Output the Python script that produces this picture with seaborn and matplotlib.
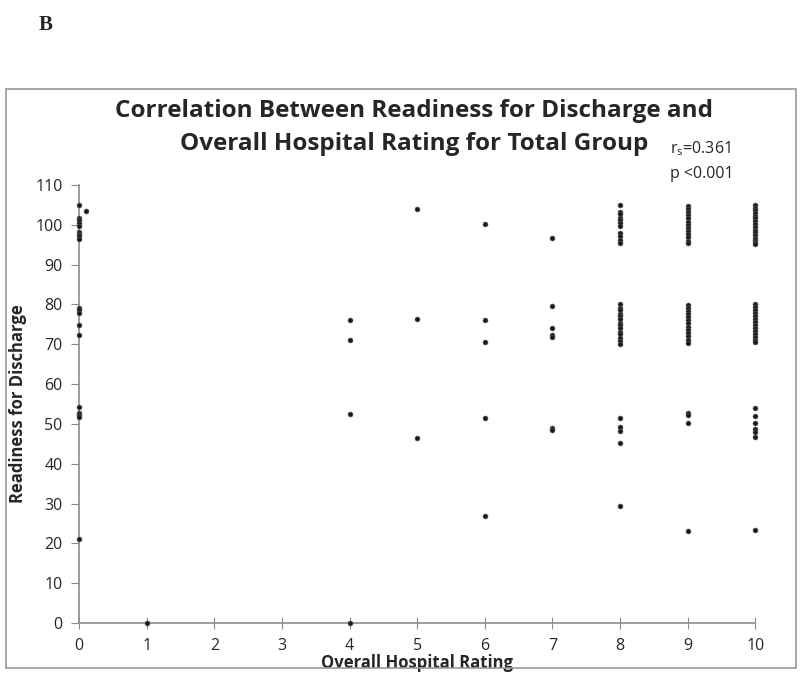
"""
Readiness for discharge vs overall hospital rating (panel B).
Scatter of each patient's readiness score against the rating they gave.
"""

import pandas as pd
import matplotlib.pyplot as plt
import seaborn as sns
from matplotlib.patches import Rectangle

sns.set_style("white")
plt.rcParams["font.family"] = ["Open Sans", "DejaVu Sans"]

# ---------------------------------------------------------
# Data: one list of readiness scores per rating
# ---------------------------------------------------------
ratings = [0, 0.1, 1, 4, 5, 6, 7, 8, 9, 10]
readiness = [
    [105, 101.7, 101.1, 100.4, 99.6, 98.3, 97.7, 97.1, 96.5,
     79.1, 78.5, 77.8, 74.8, 72.4, 54.3, 52.7, 52.3, 51.8, 21.2],
    [103.4],
    [0],
    [76.1, 71.1, 52.6, 0],
    [104, 76.4, 46.5],
    [100.1, 76, 70.5, 51.6, 26.8],
    [96.8, 79.6, 74, 72.4, 71.8, 48.9, 48.4],
    [104.9, 103.3, 102.6, 101.8, 101.1, 100.4, 99.6, 97.9, 97.1, 96.2, 95.4,
     80, 79.2, 78.6, 77.7, 77, 76.3, 75.4, 74.8, 74, 73.1, 72.5, 71.6, 70.8, 70,
     51.6, 49.1, 48.1, 45.2, 29.5],
    [104.8, 104, 103.1, 102.4, 101.7, 100.8, 100, 99.3, 98.4, 97.6, 96.9, 96, 95.4,
     79.9, 79.2, 78.3, 77.6, 76.9, 76, 75.3, 74.4, 73.6, 72.9, 72, 71.1, 70.4,
     52.8, 52.3, 50.2, 23.2],
    [105, 104.3, 103.6, 103, 102.3, 101.6, 100.9, 100.2, 99.5, 98.8, 98.1, 97.4,
     96.7, 96.1, 95.6, 95.2,
     80, 79.3, 78.6, 77.8, 77.1, 76.3, 75.6, 74.8, 74.1, 73.3, 72.6, 71.8, 71, 70.5,
     53.9, 52.1, 50.3, 48.6, 48, 46.6, 23.3],
]

title_lines = ["Correlation Between Readiness for Discharge and",
               "Overall Hospital Rating for Total Group"]

df = pd.DataFrame(
    [(r, v) for r, vals in zip(ratings, readiness) for v in vals],
    columns=["Rating", "Readiness"],
)

# ---------------------------------------------------------
# Plot
# ---------------------------------------------------------
fig = plt.figure(figsize=(8, 6.75), dpi=100)
ax = fig.add_axes([0.099, 0.077, 0.845, 0.649])

sns.scatterplot(data=df, x="Rating", y="Readiness", ax=ax, s=13,
                color="#1a1a1a", edgecolor="#666666", linewidth=0.4,
                clip_on=False, zorder=3)

ax.set_xlim(0, 10)
ax.set_ylim(0, 110)
ax.set_xticks(range(0, 11))
ax.set_yticks(range(0, 111, 10))

for side in ["top", "right"]:
    ax.spines[side].set_visible(False)
for side in ["left", "bottom"]:
    ax.spines[side].set_color("#8c8c8c")
    ax.spines[side].set_linewidth(1.2)

ax.tick_params(axis="y", direction="out", length=6, color="#8c8c8c",
               labelsize=11.5, pad=6, left=True)
ax.tick_params(axis="x", direction="inout", length=8, color="#8c8c8c",
               labelsize=11.5, pad=7, bottom=True)

ax.set_xlabel("Overall Hospital Rating", fontsize=12, fontweight="bold", labelpad=0)
ax.set_ylabel("Readiness for Discharge", fontsize=12, fontweight="bold", labelpad=6)

# title as two separate lines so the stats note can sit beside line two
fig.text(0.518, 0.835, title_lines[0], ha="center", va="center",
         fontsize=17.5, fontweight="bold")
fig.text(0.518, 0.786, title_lines[1], ha="center", va="center",
         fontsize=17.5, fontweight="bold")

fig.text(0.838, 0.780, r"r$_\mathregular{s}$=0.361", fontsize=11.5, va="center")
fig.text(0.838, 0.742, "p <0.001", fontsize=11.5, va="center")

fig.text(0.048, 0.963, "B", fontsize=15, fontweight="bold",
         family="Liberation Serif", va="center")

fig.patches.append(Rectangle((0.007, 0.01), 0.988, 0.858, transform=fig.transFigure,
                             fill=False, edgecolor="#9a9a9a", linewidth=1.2))

plt.savefig("out.png", dpi=100)
plt.close()
